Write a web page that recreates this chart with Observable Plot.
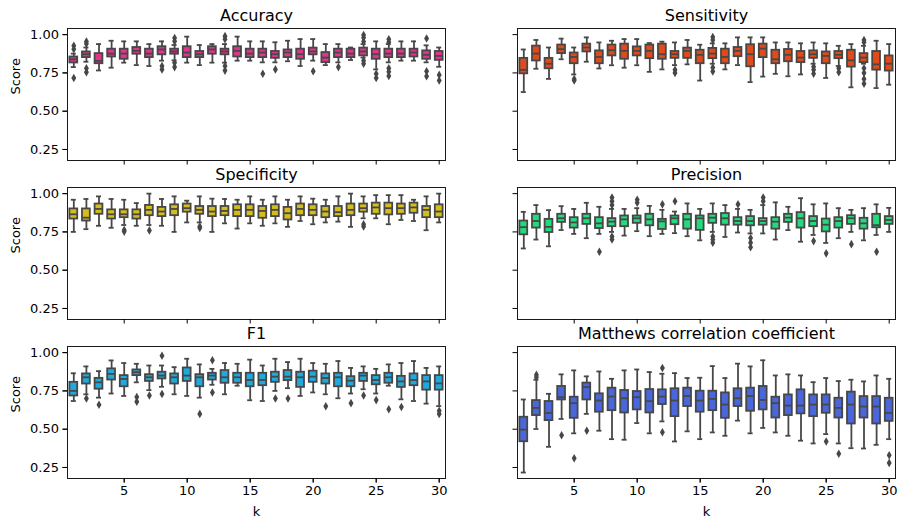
<!DOCTYPE html>
<html><head><meta charset="utf-8">
<script src="https://cdn.jsdelivr.net/npm/d3@7"></script>
<script src="https://cdn.jsdelivr.net/npm/@observablehq/plot@0.6"></script>
<style>body{margin:0;background:#fff}</style>
</head><body><div id="chart"></div>
<script>
const ks = d3.range(1, 31);
const metrics = ["Accuracy","Sensitivity","Specificity","Precision","F1","Matthews correlation coefficient"];
const colors = ["#e0358c","#e14a1b","#d6be1a","#23db7d","#1fa9dc","#4a66db"];
const yTicks = [0.25, 0.5, 0.75, 1.0];
const xTicks = [5, 10, 15, 20, 25, 30];

// [whisker low, q1, median, q3, whisker high] for k = 1..30
const accuracyBox = [
[0.788,0.815,0.839,0.854,0.876],[0.823,0.850,0.872,0.887,0.916],[0.766,0.810,0.828,0.876,0.938],[0.784,0.854,0.876,0.905,0.960],[0.817,0.839,0.876,0.905,0.956],
[0.801,0.872,0.894,0.916,0.956],[0.795,0.850,0.876,0.905,0.938],[0.830,0.868,0.903,0.921,0.956],[0.832,0.872,0.890,0.905,0.932],[0.817,0.850,0.883,0.921,0.987],
[0.801,0.850,0.872,0.890,0.932],[0.817,0.872,0.903,0.921,0.938],[0.817,0.868,0.890,0.905,0.938],[0.830,0.854,0.894,0.921,0.987],[0.830,0.850,0.876,0.905,0.956],
[0.819,0.850,0.883,0.905,0.956],[0.819,0.845,0.872,0.890,0.950],[0.826,0.850,0.883,0.900,0.960],[0.795,0.839,0.872,0.905,0.971],[0.830,0.868,0.890,0.912,0.971],
[0.801,0.817,0.850,0.883,0.938],[0.819,0.850,0.883,0.905,0.938],[0.834,0.850,0.876,0.905,0.916],[0.850,0.861,0.890,0.912,0.938],[0.773,0.839,0.872,0.905,0.956],
[0.819,0.850,0.876,0.905,0.938],[0.830,0.850,0.876,0.905,0.956],[0.830,0.854,0.883,0.905,0.956],[0.819,0.839,0.868,0.894,0.930],[0.790,0.832,0.861,0.890,0.916]];
const sensitivityBox = [
[0.625,0.744,0.770,0.845,0.903],[0.777,0.828,0.876,0.925,0.965],[0.711,0.777,0.810,0.845,0.916],[0.839,0.876,0.905,0.932,0.974],[0.740,0.810,0.854,0.880,0.916],
[0.823,0.887,0.916,0.938,0.982],[0.779,0.810,0.854,0.894,0.949],[0.800,0.861,0.898,0.932,0.960],[0.784,0.839,0.894,0.938,0.971],[0.800,0.861,0.894,0.920,0.971],
[0.757,0.843,0.894,0.932,0.945],[0.773,0.839,0.872,0.938,0.954],[0.801,0.845,0.872,0.890,0.949],[0.806,0.845,0.894,0.912,0.965],[0.700,0.810,0.868,0.898,0.934],
[0.810,0.843,0.876,0.910,0.943],[0.773,0.810,0.854,0.905,0.943],[0.801,0.856,0.894,0.916,0.982],[0.690,0.790,0.872,0.934,0.982],[0.726,0.850,0.909,0.938,0.982],
[0.744,0.810,0.839,0.898,0.949],[0.728,0.823,0.868,0.903,0.949],[0.740,0.817,0.850,0.890,0.943],[0.810,0.845,0.872,0.894,0.949],[0.717,0.810,0.861,0.887,0.943],
[0.795,0.843,0.868,0.890,0.927],[0.656,0.788,0.832,0.898,0.938],[0.810,0.817,0.850,0.876,0.927],[0.651,0.768,0.806,0.890,0.960],[0.673,0.762,0.810,0.861,0.938]];
const specificityBox = [
[0.750,0.834,0.865,0.900,0.960],[0.768,0.821,0.843,0.900,0.965],[0.790,0.865,0.900,0.932,0.982],[0.777,0.834,0.865,0.894,0.965],[0.795,0.843,0.865,0.894,0.960],
[0.790,0.834,0.865,0.894,0.938],[0.795,0.856,0.894,0.923,1.000],[0.790,0.850,0.883,0.910,0.965],[0.750,0.856,0.900,0.927,0.982],[0.812,0.879,0.905,0.932,0.954],
[0.812,0.865,0.894,0.916,0.982],[0.750,0.850,0.883,0.916,0.967],[0.806,0.856,0.887,0.916,0.965],[0.772,0.850,0.894,0.927,0.960],[0.806,0.850,0.894,0.927,0.982],
[0.790,0.839,0.887,0.916,0.960],[0.806,0.850,0.894,0.927,0.982],[0.783,0.828,0.872,0.910,0.960],[0.821,0.856,0.900,0.932,0.982],[0.800,0.856,0.894,0.927,0.967],
[0.812,0.843,0.883,0.916,0.960],[0.817,0.850,0.879,0.916,0.982],[0.783,0.856,0.894,0.932,1.000],[0.839,0.879,0.905,0.932,0.982],[0.839,0.865,0.910,0.938,0.990],
[0.800,0.861,0.905,0.938,0.990],[0.828,0.865,0.905,0.932,0.990],[0.821,0.872,0.910,0.938,0.960],[0.761,0.843,0.894,0.916,0.982],[0.812,0.843,0.883,0.927,1.000]];
const precisionBox = [
[0.642,0.731,0.781,0.821,0.881],[0.700,0.775,0.821,0.865,0.925],[0.656,0.746,0.783,0.832,0.892],[0.762,0.812,0.839,0.865,0.918],[0.737,0.775,0.812,0.843,0.900],
[0.709,0.799,0.839,0.865,0.940],[0.737,0.772,0.806,0.843,0.914],[0.750,0.784,0.817,0.837,0.900],[0.726,0.784,0.832,0.854,0.900],[0.755,0.806,0.839,0.854,0.905],
[0.722,0.790,0.832,0.865,0.920],[0.737,0.766,0.819,0.832,0.894],[0.742,0.797,0.839,0.854,0.883],[0.722,0.768,0.832,0.865,0.936],[0.695,0.760,0.839,0.854,0.900],
[0.750,0.806,0.843,0.865,0.936],[0.717,0.794,0.839,0.870,0.925],[0.746,0.794,0.821,0.843,0.900],[0.740,0.790,0.821,0.850,0.894],[0.740,0.794,0.821,0.837,0.925],
[0.700,0.768,0.817,0.843,0.943],[0.762,0.812,0.843,0.865,0.914],[0.686,0.775,0.839,0.876,0.970],[0.730,0.784,0.821,0.850,0.930],[0.678,0.750,0.797,0.834,0.936],
[0.709,0.775,0.821,0.843,0.905],[0.750,0.799,0.839,0.856,0.894],[0.695,0.768,0.806,0.839,0.905],[0.730,0.777,0.794,0.865,0.930],[0.750,0.799,0.828,0.850,0.907]];
const f1Box = [
[0.684,0.717,0.750,0.806,0.865],[0.728,0.795,0.839,0.861,0.910],[0.706,0.761,0.806,0.832,0.879],[0.733,0.821,0.861,0.894,0.949],[0.717,0.777,0.828,0.850,0.932],
[0.806,0.850,0.872,0.887,0.927],[0.755,0.812,0.839,0.856,0.916],[0.777,0.828,0.850,0.872,0.916],[0.728,0.795,0.839,0.861,0.905],[0.717,0.812,0.850,0.900,0.960],
[0.706,0.777,0.839,0.856,0.923],[0.790,0.821,0.850,0.865,0.894],[0.728,0.800,0.839,0.883,0.932],[0.784,0.800,0.839,0.865,0.927],[0.689,0.777,0.821,0.865,0.954],
[0.684,0.784,0.821,0.865,0.916],[0.750,0.806,0.843,0.872,0.960],[0.768,0.817,0.843,0.883,0.938],[0.717,0.773,0.839,0.872,0.960],[0.740,0.806,0.843,0.879,0.932],
[0.728,0.795,0.834,0.861,0.927],[0.702,0.777,0.839,0.865,0.945],[0.733,0.777,0.817,0.843,0.900],[0.761,0.812,0.850,0.865,0.910],[0.733,0.790,0.821,0.850,0.894],
[0.784,0.800,0.839,0.865,0.923],[0.695,0.773,0.812,0.845,0.932],[0.684,0.784,0.821,0.861,0.945],[0.667,0.755,0.812,0.850,0.900],[0.651,0.755,0.799,0.850,0.910]];
const mccBox = [
[0.217,0.418,0.497,0.578,0.694],[0.501,0.589,0.639,0.687,0.823],[0.385,0.556,0.606,0.681,0.731],[0.567,0.691,0.709,0.779,0.858],[0.473,0.571,0.670,0.709,0.884],
[0.600,0.691,0.775,0.801,0.845],[0.490,0.611,0.687,0.731,0.877],[0.435,0.621,0.713,0.768,0.829],[0.431,0.606,0.702,0.753,0.884],[0.540,0.626,0.709,0.746,0.890],
[0.473,0.606,0.683,0.759,0.873],[0.551,0.661,0.713,0.757,0.862],[0.420,0.582,0.687,0.764,0.866],[0.486,0.648,0.716,0.768,0.834],[0.435,0.611,0.687,0.748,0.836],
[0.479,0.621,0.698,0.748,0.912],[0.457,0.571,0.661,0.737,0.834],[0.556,0.648,0.702,0.764,0.928],[0.473,0.617,0.716,0.768,0.910],[0.508,0.626,0.691,0.779,0.950],
[0.479,0.573,0.670,0.709,0.851],[0.457,0.589,0.654,0.724,0.858],[0.425,0.600,0.654,0.757,0.851],[0.407,0.582,0.661,0.724,0.807],[0.468,0.604,0.661,0.724,0.834],
[0.407,0.573,0.639,0.702,0.814],[0.376,0.534,0.661,0.742,0.823],[0.374,0.573,0.648,0.713,0.812],[0.398,0.534,0.648,0.713,0.851],[0.435,0.551,0.606,0.702,0.829]];

// outliers: [k, value]
const accuracyOut = [[1,0.927],[1,0.905],[1,0.717],[2,0.955],[2,0.94],[2,0.78],[2,0.755],[8,0.795],[8,0.773],[9,0.978],[9,0.956],[9,0.817],[9,0.788],
[13,0.99],[13,0.97],[13,0.795],[13,0.765],[16,0.744],[17,0.773],[20,0.761],[22,0.788],[24,0.998],[24,0.98],[24,0.955],[24,0.83],[24,0.81],
[25,0.744],[25,0.717],[26,0.97],[26,0.95],[26,0.78],[26,0.757],[26,0.73],[29,0.975],[29,0.761],[29,0.728],[30,0.737],[30,0.70]];
const sensitivityOut = [[5,0.71],[5,0.70],[13,0.77],[13,0.75],[16,0.985],[16,0.965],[16,0.785],[16,0.76],[24,0.79],[24,0.77],[24,0.745],
[26,0.78],[26,0.755],[28,0.965],[28,0.95],[28,0.78],[28,0.75],[28,0.71],[28,0.68]];
const specificityOut = [[5,0.762],[5,0.752],[7,0.76],[11,0.785],[11,0.775],[24,0.80],[24,0.785]];
const precisionOut = [[7,0.62],[8,0.975],[8,0.95],[8,0.925],[8,0.72],[8,0.70],[10,0.96],[10,0.94],[12,0.93],[13,0.95],[16,0.72],[16,0.70],[16,0.68],
[18,0.93],[19,0.71],[19,0.68],[19,0.65],[20,0.975],[20,0.95],[24,0.69],[25,0.61],[27,0.67],[29,0.62]];
const f1Out = [[2,0.70],[3,0.66],[6,0.71],[6,0.68],[7,0.72],[8,0.98],[8,0.73],[11,0.60],[12,0.95],[12,0.74],[17,0.70],[18,0.70],
[21,0.65],[23,0.67],[24,0.72],[25,0.69],[26,0.63],[27,0.645],[30,0.62],[30,0.60]];
const mccOut = [[2,0.855],[2,0.84],[4,0.46],[5,0.31],[6,0.49],[12,0.90],[12,0.48],[25,0.42],[26,0.34],[30,0.33],[30,0.28]];

const boxSets = [accuracyBox, sensitivityBox, specificityBox, precisionBox, f1Box, mccBox];
const outSets = [accuracyOut, sensitivityOut, specificityOut, precisionOut, f1Out, mccOut];

const rows = [];
boxSets.forEach((b, m) => b.forEach((s, i) => rows.push({
  metric: metrics[m], col: m % 2, row: Math.floor(m / 2), k: ks[i],
  lo: s[0], q1: s[1], med: s[2], q3: s[3], hi: s[4]})));
const fliers = [];
outSets.forEach((o, m) => o.forEach(([k, v]) => fliers.push({metric: metrics[m], col: m % 2, row: Math.floor(m / 2), k, v})));
const panels = metrics.map((m, i) => ({metric: m, col: i % 2, row: Math.floor(i / 2)}));

const gray = "#474747";
const F = {fx: "col", fy: "row"};

const chart = Plot.plot({
  width: 900, height: 519,
  marginLeft: 67, marginRight: 5, marginTop: 28, marginBottom: 41,
  style: {fontFamily: "DejaVu Sans", fontSize: "13px", color: "#000", background: "#fff"},
  fx: {domain: [0, 1], paddingInner: 72 / 450, paddingOuter: 0, round: false, axis: null},
  fy: {domain: [0, 1, 2], paddingInner: 27 / 159, paddingOuter: 0, round: false, axis: null},
  x: {domain: ks, paddingInner: 0.38, paddingOuter: 0.19, align: 0.5, round: false, axis: null},
  y: {domain: [0.178, 1.04], axis: null},
  color: {domain: metrics, range: colors},
  marks: [
    Plot.ruleX(rows, {...F, x: "k", y1: "lo", y2: "q1", stroke: gray, strokeWidth: 1.8}),
    Plot.ruleX(rows, {...F, x: "k", y1: "q3", y2: "hi", stroke: gray, strokeWidth: 1.8}),
    Plot.tickY(rows, {...F, x: "k", y: "lo", stroke: gray, strokeWidth: 1.8, insetLeft: 1.4, insetRight: 1.4}),
    Plot.tickY(rows, {...F, x: "k", y: "hi", stroke: gray, strokeWidth: 1.8, insetLeft: 1.4, insetRight: 1.4}),
    Plot.barY(rows, {...F, x: "k", y1: "q1", y2: "q3", fill: "metric", stroke: gray, strokeWidth: 1.8}),
    Plot.tickY(rows, {...F, x: "k", y: "med", stroke: gray, strokeWidth: 1.8}),
    Plot.dot(fliers, {...F, x: "k", y: "v", symbol: "diamond", fill: gray, stroke: "none", r: 2.6}),
    Plot.frame({stroke: "#1a1a1a", strokeWidth: 1}),
    Plot.axisY({ticks: yTicks, tickFormat: ".2f", label: null, tickSize: 4.5, tickPadding: 4, fontSize: 13}),
    Plot.axisY({ticks: yTicks, tickFormat: () => "", label: null, tickSize: 4.5, facetAnchor: null}),
    Plot.axisX({ticks: xTicks, label: null, tickSize: 4.5, tickPadding: 3, fontSize: 13}),
    Plot.axisX({ticks: xTicks, tickFormat: () => "", label: null, tickSize: 4.5, facetAnchor: null}),
    Plot.text(panels, {...F, text: "metric", frameAnchor: "top", lineAnchor: "bottom", dy: -8, fontSize: 16}),
    Plot.text(panels.filter(d => d.col === 0), {...F, text: () => "Score", frameAnchor: "left", dx: -52, rotate: -90, fontSize: 13}),
    Plot.text(panels.filter(d => d.row === 2), {...F, text: () => "k", frameAnchor: "bottom", dy: 33, lineAnchor: "middle", fontSize: 13})
  ]
});
document.getElementById("chart").appendChild(chart);
</script>
</body></html>
